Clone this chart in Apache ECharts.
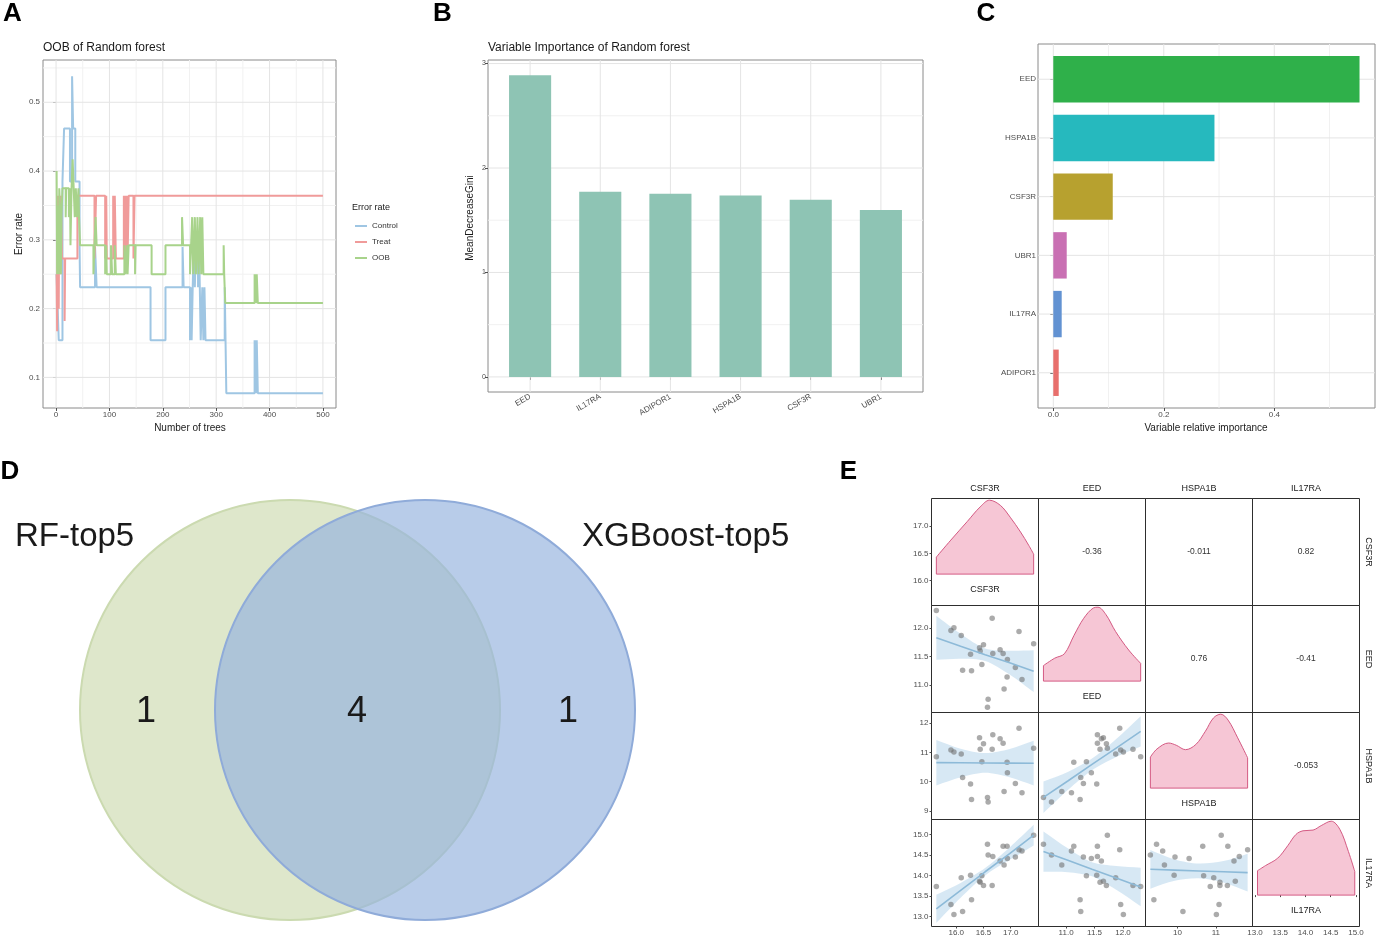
<!DOCTYPE html>
<html>
<head>
<meta charset="utf-8">
<title>Figure</title>
<script src="https://cdn.jsdelivr.net/npm/echarts@6.0.0/dist/echarts.min.js"></script>
<style>
html,body{margin:0;padding:0;background:#ffffff;}
#chart{width:1382px;height:944px;}
</style>
</head>
<body>
<div id="chart"></div>
<script>
// ======================= DATA =======================
// Panel A : OOB error of the random forest, change points [number of trees, error rate]
const oobClasses = ['Control', 'Treat', 'OOB'];
const errControl = [[1,0.25],[3,0.2],[5,0.154],[12,0.385],[15,0.462],[26,0.385],[30,0.538],[32,0.462],[36,0.385],[44,0.29],[45,0.231],[73,0.29],[76,0.231],[177,0.154],[205,0.231],[237,0.29],[239,0.231],[251,0.154],[253,0.231],[254,0.154],[256,0.231],[258,0.29],[260,0.231],[262,0.29],[266,0.231],[268,0.29],[271,0.154],[274,0.231],[276,0.154],[278,0.231],[280,0.154],[316,0.231],[319,0.077],[372,0.154],[373,0.077],[374,0.154],[375,0.077],[376,0.154],[378,0.077],[500,0.077]];
const errTreat = [[1,0.25],[2,0.167],[3,0.364],[5,0.2],[6,0.364],[8,0.25],[9,0.364],[11,0.273],[16,0.182],[17,0.273],[40,0.364],[72,0.273],[75,0.364],[92,0.273],[94,0.364],[95,0.273],[107,0.364],[109,0.273],[110,0.364],[112,0.273],[127,0.364],[128,0.273],[130,0.364],[131,0.273],[133,0.364],[134,0.273],[136,0.364],[145,0.273],[147,0.364],[500,0.364]];
const errOOB = [[1,0.4],[2,0.25],[3,0.35],[4,0.3],[5,0.25],[6,0.375],[8,0.333],[9,0.25],[10,0.333],[12,0.375],[18,0.333],[19,0.375],[24,0.333],[26,0.375],[27,0.292],[29,0.375],[31,0.417],[33,0.375],[35,0.333],[37,0.375],[39,0.333],[42,0.375],[43,0.333],[45,0.292],[70,0.25],[72,0.292],[74,0.333],[76,0.292],[92,0.25],[94,0.292],[95,0.25],[103,0.292],[105,0.25],[110,0.292],[112,0.25],[128,0.292],[130,0.25],[133,0.292],[134,0.25],[136,0.292],[148,0.25],[149,0.292],[179,0.25],[205,0.292],[236,0.333],[238,0.292],[251,0.25],[253,0.292],[255,0.333],[257,0.25],[260,0.333],[262,0.25],[265,0.333],[267,0.25],[270,0.333],[272,0.25],[274,0.333],[276,0.25],[314,0.292],[315,0.25],[317,0.208],[372,0.25],[373,0.208],[374,0.25],[375,0.208],[376,0.25],[378,0.208],[500,0.208]];
const treeTicks = [0,100,200,300,400,500];
const treeMinor = [50,150,250,350,450];
const errTicks = [0.1,0.2,0.3,0.4,0.5];
const errMinor = [0.15,0.25,0.35,0.45,0.55];

// Panel B : MeanDecreaseGini
const rfGenes = ['EED','IL17RA','ADIPOR1','HSPA1B','CSF3R','UBR1'];
const rfGini = [2.889,1.772,1.753,1.737,1.696,1.597];
const giniTicks = [0,1,2,3];
const giniMinor = [0.5,1.5,2.5];

// Panel C : XGBoost variable relative importance (bottom to top)
const xgbGenes = ['ADIPOR1','IL17RA','UBR1','CSF3R','HSPA1B','EED'];
const xgbImportance = [0.0098,0.0152,0.0243,0.1076,0.2917,0.5543];
const impTicks = [0,0.2,0.4];
const impMinor = [0.1,0.3,0.5];

// Panel D : Venn
const vennSets = ['RF-top5','XGBoost-top5'];
const vennCounts = [1,4,1];

// Panel E : pairs plot (24 samples)
const pairGenes = ['CSF3R','EED','HSPA1B','IL17RA'];
const valCSF3R = [15.634,15.902,15.957,16.091,16.116,16.262,16.280,16.427,16.439,16.470,16.500,16.573,16.585,16.659,16.671,16.805,16.860,16.878,16.933,16.939,17.085,17.152,17.207,17.421];
const valEED = [12.310,11.959,12.006,11.871,11.257,11.538,11.246,11.655,11.596,11.357,11.708,10.602,10.743,12.175,11.550,11.620,11.550,10.924,11.135,11.444,11.304,11.942,11.094,11.725];
const valHSPA1B = [10.855,11.084,11.015,10.946,10.144,9.915,9.388,11.507,11.107,10.683,11.301,9.457,9.297,11.107,11.611,11.473,11.313,9.663,10.660,10.305,9.938,11.828,9.617,11.141];
const valIL17RA = [13.732,13.293,13.049,13.943,13.122,14.008,13.407,13.862,13.837,13.992,13.756,14.756,14.496,13.756,14.463,14.350,14.707,14.252,14.707,14.415,14.447,14.626,14.593,14.976];
const corrText = ['-0.36','-0.011','0.82','0.76','-0.41','-0.053']; // (1,2),(1,3),(1,4),(2,3),(2,4),(3,4)
const ticksCSF3R = [16.0,16.5,17.0];
const ticksEED = [11.0,11.5,12.0];
const ticksHSPA1B = [9,10,11,12];
const ticksIL17RA = [13.0,13.5,14.0,14.5,15.0];
// densities (relative height) read along each gene's range
const densCSF3R = [[15.634,0.23],[15.90,0.46],[16.20,0.71],[16.44,0.91],[16.61,1.0],[16.81,0.93],[16.99,0.77],[17.18,0.57],[17.33,0.39],[17.421,0.27]];
const densEED = [[10.602,0.21],[10.80,0.31],[10.97,0.37],[11.14,0.62],[11.31,0.85],[11.48,0.99],[11.56,1.0],[11.70,0.90],[11.87,0.67],[12.10,0.42],[12.31,0.24]];
const densHSPA1B = [[9.297,0.42],[9.47,0.53],[9.77,0.61],[9.97,0.58],[10.21,0.52],[10.48,0.59],[10.73,0.77],[10.94,0.95],[11.13,1.0],[11.32,0.92],[11.57,0.68],[11.828,0.41]];
const densIL17RA = [[13.049,0.33],[13.21,0.40],[13.45,0.50],[13.65,0.67],[13.81,0.82],[13.95,0.87],[14.15,0.88],[14.31,0.94],[14.51,1.0],[14.68,0.89],[14.85,0.59],[14.976,0.32]];
// linear fits with 95% bands
const fitXCSF3R = [15.634,16.08,16.53,16.98,17.421];
const fitXEED = [10.602,11.03,11.455,11.88,12.31];
const fitXHSPA1B = [9.297,9.93,10.56,11.2,11.828];
const fitEEDbyCSF3R = [11.83,11.68,11.53,11.39,11.24];
const hiEEDbyCSF3R = [12.22,11.90,11.64,11.60,11.61];
const loEEDbyCSF3R = [11.44,11.46,11.42,11.18,10.87];
const fitHSPA1BbyCSF3R = [10.65,10.645,10.64,10.635,10.63];
const hiHSPA1BbyCSF3R = [11.43,11.13,10.98,11.12,11.40];
const loHSPA1BbyCSF3R = [9.87,10.15,10.30,10.15,9.87];
const fitIL17RAbyCSF3R = [13.19,13.64,14.09,14.53,14.98];
const hiIL17RAbyCSF3R = [13.53,13.82,14.18,14.68,15.23];
const loIL17RAbyCSF3R = [12.85,13.46,14.00,14.38,14.73];
const fitHSPA1BbyEED = [9.46,10.02,10.59,11.15,11.72];
const hiHSPA1BbyEED = [10.0,10.33,10.79,11.46,12.24];
const loHSPA1BbyEED = [8.92,9.71,10.39,10.84,11.20];
const fitIL17RAbyEED = [14.58,14.37,14.15,13.94,13.72];
const hiIL17RAbyEED = [15.07,14.66,14.32,14.23,14.19];
const loIL17RAbyEED = [14.09,14.08,13.98,13.65,13.25];
const fitIL17RAbyHSPA1B = [14.15,14.13,14.11,14.09,14.07];
const hiIL17RAbyHSPA1B = [14.62,14.39,14.29,14.35,14.53];
const loIL17RAbyHSPA1B = [13.68,13.87,13.93,13.83,13.61];

// ======================= STYLE / LAYOUT =======================
const FONT = '"Liberation Sans", Arial, Helvetica, sans-serif';
const GRID_MAJOR = '#e4e4e4', GRID_MINOR = '#f1f1f1';
const PANEL_BORDER = '#8a8a8a';
const TICK_COLOR = '#4d4d4d';
const oobColors = ['#9fc6e3', '#f09b9a', '#a8d38b'];
const rfColor = '#8ec4b4';
const xgbColors = ['#e86f6c', '#6292d2', '#c970b3', '#b7a12f', '#26b9be', '#2fb04a'];

const grids = [], xAxes = [], yAxes = [], series = [], graphics = [];

function addGrid(l, t, w, h, border) {
  grids.push({left: l, top: t, width: w, height: h, show: true, borderColor: border, borderWidth: 1,
    backgroundColor: 'rgba(0,0,0,0)', containLabel: false, outerBoundsMode: 'none'});
  return grids.length - 1;
}
function valAxis(list, gi, min, max, ticks, fmt, opt) {
  opt = opt || {};
  list.push({gridIndex: gi, type: 'value', min: min, max: max, show: opt.show !== false,
    axisLine: {show: false}, splitLine: {show: false}, minorSplitLine: {show: false},
    axisTick: {show: !!ticks, length: opt.tickLen || 3, customValues: ticks || [], lineStyle: {color: TICK_COLOR, width: 1}},
    axisLabel: {show: !!ticks, customValues: ticks || [], formatter: fmt, fontSize: opt.fontSize || 8,
      color: TICK_COLOR, margin: opt.margin == null ? 3 : opt.margin, rotate: opt.rotate || 0, fontFamily: FONT}});
  return list.length - 1;
}
function gridLines(xi, yi, xVals, yVals, xMid, yMid, color) {
  const data = xVals.map(v => [v, yMid, 0]).concat(yVals.map(v => [xMid, v, 1]));
  series.push({type: 'custom', xAxisIndex: xi, yAxisIndex: yi, silent: true, z: 1, data: data,
    renderItem: function (params, api) {
      const cs = params.coordSys;
      const p = api.coord([api.value(0), api.value(1)]);
      const shape = api.value(2) === 0
        ? {x1: p[0], y1: cs.y, x2: p[0], y2: cs.y + cs.height}
        : {x1: cs.x, y1: p[1], x2: cs.x + cs.width, y2: p[1]};
      return {type: 'line', shape: shape, style: {stroke: color, lineWidth: 1}};
    }});
}
function txt(x, y, text, size, opt) {
  opt = opt || {};
  graphics.push({type: 'text', x: x, y: y, rotation: opt.rotation || 0, silent: true, z: 100,
    style: {text: text, fill: opt.color || '#1a1a1a', fontSize: size, fontFamily: opt.family || FONT,
      fontWeight: opt.weight || 'normal', align: opt.align || 'center', verticalAlign: opt.valign || 'middle',
      textAlign: opt.align || 'center', textVerticalAlign: opt.valign || 'middle'}});
}

// ---------------- Panel A ----------------
const gA = addGrid(43, 60, 293, 348, PANEL_BORDER);
const xA = valAxis(xAxes, gA, -24.5, 524.5, treeTicks, v => String(v));
const yA = valAxis(yAxes, gA, 0.0555, 0.5615, errTicks, v => v.toFixed(1));
gridLines(xA, yA, treeMinor, errMinor, 250, 0.3, GRID_MINOR);
gridLines(xA, yA, treeTicks, errTicks, 250, 0.3, GRID_MAJOR);
[errControl, errTreat, errOOB].forEach(function (d, i) {
  series.push({name: oobClasses[i], type: 'line', xAxisIndex: xA, yAxisIndex: yA, data: d, step: 'end',
    symbol: 'none', showSymbol: false, lineStyle: {width: 2, color: oobColors[i]}, itemStyle: {color: oobColors[i]}, z: 3 + i});
});
txt(43, 48, 'OOB of Random forest', 12, {align: 'left'});
txt(190, 428, 'Number of trees', 10);
txt(19, 234, 'Error rate', 10, {rotation: Math.PI / 2});
txt(352, 208, 'Error rate', 9, {align: 'left'});

// ---------------- Panel B ----------------
const gB = addGrid(488, 60, 435, 332, PANEL_BORDER);
const catTicksB = rfGenes.map((g, i) => i + 1);
const xB = valAxis(xAxes, gB, 0.4, 6.6, catTicksB, v => rfGenes[Math.round(v) - 1] || '', {rotate: 30, margin: 4});
const yB = valAxis(yAxes, gB, -0.1445, 3.034, giniTicks, v => String(v), {fontSize: 7, margin: 2});
gridLines(xB, yB, [], giniMinor, 3.5, 1.5, GRID_MINOR);
gridLines(xB, yB, catTicksB, giniTicks, 3.5, 1.5, GRID_MAJOR);
series.push({type: 'custom', xAxisIndex: xB, yAxisIndex: yB, z: 3, data: rfGini.map((v, i) => [i + 1, v]),
  renderItem: function (params, api) {
    const x = api.value(0), v = api.value(1);
    const a = api.coord([x - 0.3, v]), b = api.coord([x + 0.3, 0]);
    return {type: 'rect', shape: {x: a[0], y: a[1], width: b[0] - a[0], height: b[1] - a[1]}, style: {fill: rfColor}};
  }});
txt(488, 48, 'Variable Importance of Random forest', 12, {align: 'left'});
txt(470, 218, 'MeanDecreaseGini', 10, {rotation: Math.PI / 2});

// ---------------- Panel C ----------------
const gC = addGrid(1038, 44, 337, 364, PANEL_BORDER);
const catTicksC = xgbGenes.map((g, i) => i + 1);
const xC = valAxis(xAxes, gC, -0.0277, 0.5823, impTicks, v => v.toFixed(1));
const yC = valAxis(yAxes, gC, 0.4, 6.6, catTicksC, v => xgbGenes[Math.round(v) - 1] || '', {margin: 2});
gridLines(xC, yC, impMinor, [], 0.3, 3.5, GRID_MINOR);
gridLines(xC, yC, impTicks, catTicksC, 0.3, 3.5, GRID_MAJOR);
series.push({type: 'custom', xAxisIndex: xC, yAxisIndex: yC, z: 3, data: xgbImportance.map((v, i) => [v, i + 1, i]),
  renderItem: function (params, api) {
    const v = api.value(0), y = api.value(1);
    const a = api.coord([0, y + 0.395]), b = api.coord([v, y - 0.395]);
    return {type: 'rect', shape: {x: a[0], y: a[1], width: b[0] - a[0], height: b[1] - a[1]}, style: {fill: xgbColors[api.value(2)]}};
  }});
txt(1206, 428, 'Variable relative importance', 10);

// ---------------- Panel D (Venn) ----------------
const vennGeom = [{cx: 290, cy: 710, r: 210}, {cx: 425, cy: 710, r: 210}];
const vennFill = ['rgba(222,231,203,1)', 'rgba(150,180,222,0.68)'];
const vennStroke = ['#cbdab0', '#8fabd9'];
series.push({type: 'custom', coordinateSystem: 'none', silent: true, z: 1, data: vennSets.map((s, i) => [i]),
  renderItem: function (params, api) {
    const i = api.value(0), g = vennGeom[i];
    return {type: 'circle', shape: {cx: g.cx, cy: g.cy, r: g.r}, style: {fill: vennFill[i], stroke: vennStroke[i], lineWidth: 2}};
  }});
txt(15, 537, vennSets[0], 33, {align: 'left'});
txt(582, 537, vennSets[1], 33, {align: 'left'});
const vennCountPos = [[146, 712], [357, 712], [568, 712]];
vennCounts.forEach((c, i) => txt(vennCountPos[i][0], vennCountPos[i][1], String(c), 36));

// ---------------- Panel E (pairs) ----------------
const E0x = 931.5, E0y = 498.5, EC = 107;
const vals = [valCSF3R, valEED, valHSPA1B, valIL17RA];
const colRange = [[15.545, 17.51], [10.515, 12.395], [9.17, 11.955], [12.95, 15.07]];
const rowRange = [[15.545, 17.51], [10.51, 12.40], [8.70, 12.37], [12.76, 15.36]];
const geneTicks = [ticksCSF3R, ticksEED, ticksHSPA1B, ticksIL17RA];
const tickDec = [1, 1, 0, 1];
const dens = [densCSF3R, densEED, densHSPA1B, densIL17RA];
const densRange = [-0.425, 1.023];
const fits = {
  '10': [fitXCSF3R, fitEEDbyCSF3R, loEEDbyCSF3R, hiEEDbyCSF3R],
  '20': [fitXCSF3R, fitHSPA1BbyCSF3R, loHSPA1BbyCSF3R, hiHSPA1BbyCSF3R],
  '30': [fitXCSF3R, fitIL17RAbyCSF3R, loIL17RAbyCSF3R, hiIL17RAbyCSF3R],
  '21': [fitXEED, fitHSPA1BbyEED, loHSPA1BbyEED, hiHSPA1BbyEED],
  '31': [fitXEED, fitIL17RAbyEED, loIL17RAbyEED, hiIL17RAbyEED],
  '32': [fitXHSPA1B, fitIL17RAbyHSPA1B, loIL17RAbyHSPA1B, hiIL17RAbyHSPA1B]
};
const DENS_FILL = '#f6c6d5', DENS_LINE = '#d45a83';
const RIBBON = 'rgba(160,200,228,0.42)', FIT_LINE = '#8dbad8', POINT = 'rgba(110,110,110,0.72)';
let corrIdx = 0;
function ePairAxis(list, gi, range, varIdx, labelled, isX) {
  const ticks = labelled ? geneTicks[varIdx].filter(v => v > range[0] && v < range[1]) : null;
  return valAxis(list, gi, range[0], range[1], ticks, v => Number(v).toFixed(tickDec[varIdx]),
    {tickLen: 2, margin: isX ? 2 : 3, fontSize: 8});
}
function ribbonRenderer(fx, lo, hi) {
  return function (params, api) {
    const up = fx.map((x, i) => api.coord([x, hi[i]]));
    const dn = fx.map((x, i) => api.coord([x, lo[i]])).reverse();
    const pts = up.concat([up[up.length - 1]], [dn[0]], dn, [dn[dn.length - 1]], [up[0]]);
    return {type: 'polygon', shape: {points: pts, smooth: 0.3}, style: {fill: RIBBON}};
  };
}
for (let r = 0; r < 4; r++) {
  for (let c = 0; c < 4; c++) {
    const gl = E0x + c * EC, gt = E0y + r * EC;
    const gi = addGrid(gl, gt, EC, EC, '#2e2e2e');
    const xi = ePairAxis(xAxes, gi, colRange[c], c, r === 3, true);
    const yi = ePairAxis(yAxes, gi, rowRange[r], r, c === 0, false);
    if (r === c) {
      const dyi = valAxis(yAxes, gi, densRange[0], densRange[1], null, null, {show: false});
      const d = dens[r];
      series.push({type: 'line', xAxisIndex: xi, yAxisIndex: dyi, data: d, smooth: 0.35, symbol: 'none',
        lineStyle: {color: DENS_LINE, width: 1}, areaStyle: {color: DENS_FILL, opacity: 1}, z: 3});
      const first = d[0], last = d[d.length - 1];
      series.push({type: 'line', xAxisIndex: xi, yAxisIndex: dyi, symbol: 'none', z: 4,
        data: [[first[0], first[1]], [first[0], 0], [last[0], 0], [last[0], last[1]]],
        lineStyle: {color: DENS_LINE, width: 1}});
      const baseY = gt + EC * (densRange[1] / (densRange[1] - densRange[0]));
      txt(gl + EC / 2, baseY + 15.5, pairGenes[r], 9);
    } else if (r > c) {
      const f = fits[String(r) + String(c)];
      const fx = f[0], fy = f[1], lo = f[2], hi = f[3];
      series.push({type: 'custom', xAxisIndex: xi, yAxisIndex: yi, silent: true, z: 2,
        data: [[fx[0], fy[0]]], renderItem: ribbonRenderer(fx, lo, hi)});
      series.push({type: 'scatter', xAxisIndex: xi, yAxisIndex: yi, symbolSize: 5.5, z: 3,
        data: vals[c].map((x, i) => [x, vals[r][i]]), itemStyle: {color: POINT}});
      series.push({type: 'line', xAxisIndex: xi, yAxisIndex: yi, symbol: 'none', z: 4,
        data: fx.map((x, i) => [x, fy[i]]), lineStyle: {color: FIT_LINE, width: 1.6}});
    }
  }
}
// correlation texts in the upper triangle
for (let r = 0; r < 4; r++) for (let c = r + 1; c < 4; c++) {
  txt(E0x + c * EC + EC / 2, E0y + r * EC + EC / 2, corrText[corrIdx++], 8.5, {color: '#333'});
}
// strips
pairGenes.forEach(function (g, i) {
  txt(E0x + i * EC + EC / 2, 489, g, 9);
  txt(1368, E0y + i * EC + EC / 2, g, 9, {rotation: -Math.PI / 2});
});

// panel letters
[['A', 12.5, 14], ['B', 442.5, 14], ['C', 986, 14], ['D', 10, 472], ['E', 848.5, 472]].forEach(function (l) {
  txt(l[1], l[2], l[0], 26, {weight: 'bold', color: '#000'});
});

const option = {
  animation: false,
  backgroundColor: '#ffffff',
  textStyle: {fontFamily: FONT},
  grid: grids,
  xAxis: xAxes,
  yAxis: yAxes,
  legend: {data: oobClasses, orient: 'vertical', left: 355, top: 221, itemWidth: 12, itemHeight: 2, itemGap: 6,
    icon: 'rect', selectedMode: false, padding: 0,
    textStyle: {fontSize: 8, color: '#333', fontFamily: FONT, lineHeight: 10}},
  series: series,
  graphic: {elements: graphics}
};
const chart = echarts.init(document.getElementById('chart'), null, {renderer: 'canvas'});
chart.setOption(option);
</script>
</body>
</html>
